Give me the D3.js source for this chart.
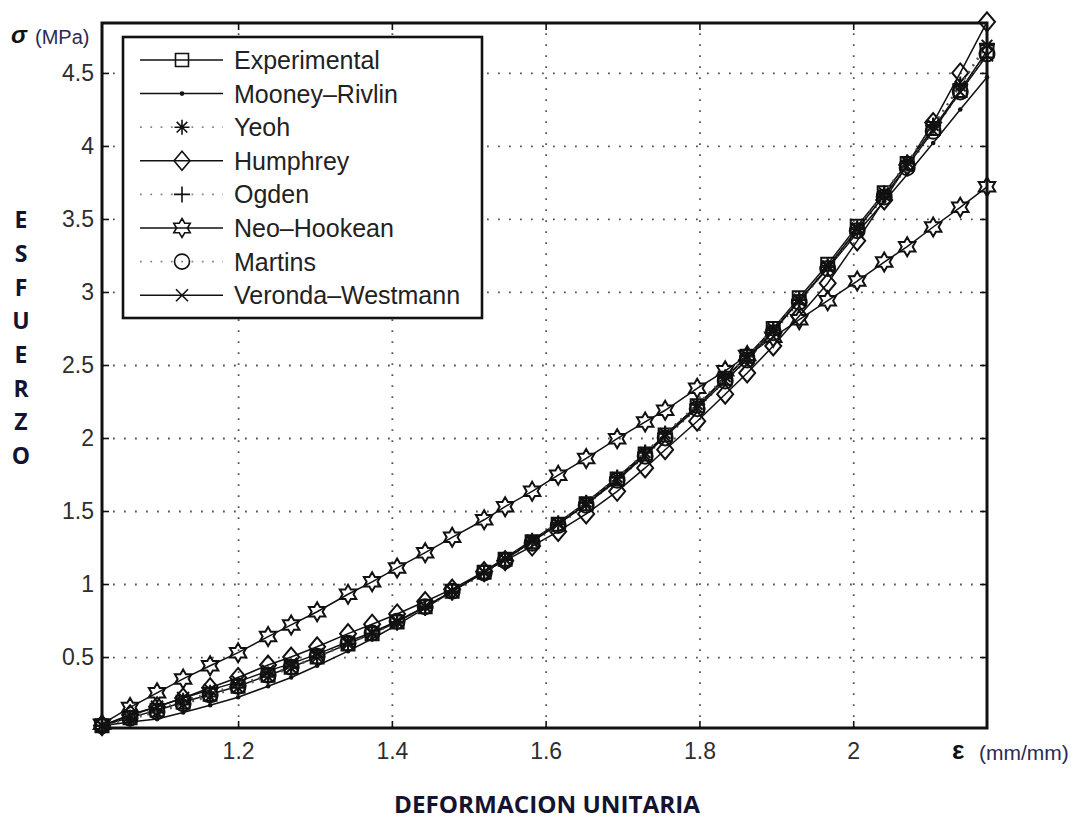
<!DOCTYPE html>
<html>
<head>
<meta charset="utf-8">
<script src="https://cdn.jsdelivr.net/npm/d3@7"></script>
<style>
  body { margin: 0; background: #fff; }
  svg { display: block; }
  text { font-family: "Liberation Sans", Arial, Helvetica, sans-serif; }
</style>
</head>
<body>
<svg id="chart" width="1084" height="822"></svg>
<script>
// Stretch (mm/mm) at which every model was evaluated
const strain = [1.023, 1.0595, 1.0946, 1.1285, 1.1636, 1.200, 1.239, 1.269, 1.3028, 1.343,
  1.3743, 1.4068, 1.4433, 1.4784, 1.520, 1.5473, 1.5824, 1.6163, 1.6527, 1.693,
  1.7294, 1.7554, 1.7971, 1.8335, 1.8621, 1.896, 1.9298, 1.9668, 2.0052, 2.0403,
  2.0702, 2.104, 2.1392, 2.174];

// Stress (MPa) for each series
const experimental = [0.03, 0.085, 0.135, 0.19, 0.245, 0.30, 0.375, 0.43, 0.50, 0.59,
  0.66, 0.74, 0.845, 0.95, 1.08, 1.17, 1.29, 1.41, 1.55, 1.72,
  1.89, 2.02, 2.22, 2.41, 2.56, 2.75, 2.96, 3.19, 3.45, 3.68,
  3.88, 4.12, 4.38, 4.65];
const mooneyRivlin = [0.03, 0.055, 0.075, 0.12, 0.17, 0.225, 0.30, 0.36, 0.44, 0.54,
  0.625, 0.72, 0.835, 0.95, 1.085, 1.18, 1.30, 1.42, 1.56, 1.73,
  1.895, 2.02, 2.22, 2.41, 2.56, 2.74, 2.94, 3.16, 3.405, 3.62,
  3.805, 4.02, 4.25, 4.47];
const yeoh = [0.03, 0.075, 0.12, 0.175, 0.23, 0.29, 0.365, 0.425, 0.50, 0.59,
  0.66, 0.74, 0.845, 0.95, 1.08, 1.17, 1.30, 1.42, 1.56, 1.73,
  1.90, 2.03, 2.23, 2.42, 2.56, 2.75, 2.95, 3.18, 3.44, 3.68,
  3.89, 4.14, 4.41, 4.69];
const humphrey = [0.03, 0.105, 0.16, 0.22, 0.29, 0.36, 0.445, 0.50, 0.57, 0.66,
  0.725, 0.795, 0.88, 0.965, 1.085, 1.16, 1.26, 1.36, 1.48, 1.635,
  1.795, 1.92, 2.115, 2.30, 2.445, 2.63, 2.835, 3.06, 3.35, 3.63,
  3.87, 4.16, 4.50, 4.85];
const ogden = [0.03, 0.085, 0.14, 0.20, 0.255, 0.31, 0.38, 0.435, 0.50, 0.59,
  0.66, 0.735, 0.835, 0.94, 1.07, 1.165, 1.29, 1.41, 1.555, 1.73,
  1.90, 2.03, 2.23, 2.41, 2.56, 2.74, 2.945, 3.17, 3.43, 3.67,
  3.88, 4.14, 4.42, 4.70];
const neoHookean = [0.04, 0.155, 0.255, 0.35, 0.44, 0.53, 0.64, 0.72, 0.81, 0.93,
  1.015, 1.11, 1.215, 1.32, 1.44, 1.53, 1.635, 1.745, 1.86, 1.995,
  2.11, 2.19, 2.34, 2.46, 2.565, 2.69, 2.81, 2.94, 3.075, 3.205,
  3.31, 3.445, 3.58, 3.72];
const martins = [0.03, 0.08, 0.125, 0.18, 0.24, 0.30, 0.375, 0.43, 0.505, 0.595,
  0.665, 0.745, 0.845, 0.95, 1.075, 1.16, 1.28, 1.40, 1.54, 1.71,
  1.875, 2.00, 2.20, 2.39, 2.535, 2.72, 2.93, 3.16, 3.42, 3.65,
  3.85, 4.10, 4.37, 4.63];
const verondaWestmann = [0.03, 0.10, 0.16, 0.22, 0.275, 0.33, 0.405, 0.455, 0.52, 0.605,
  0.67, 0.745, 0.845, 0.95, 1.08, 1.17, 1.29, 1.41, 1.545, 1.71,
  1.88, 2.01, 2.205, 2.39, 2.54, 2.73, 2.94, 3.17, 3.43, 3.66,
  3.86, 4.105, 4.37, 4.62];

const seriesNames = ["Experimental", "Mooney\u2013Rivlin", "Yeoh", "Humphrey", "Ogden",
  "Neo\u2013Hookean", "Martins", "Veronda\u2013Westmann"];

const xTicks = [1.2, 1.4, 1.6, 1.8, 2.0];
const xTickLabels = ["1.2", "1.4", "1.6", "1.8", "2"];
const yTicks = [0.5, 1, 1.5, 2, 2.5, 3, 3.5, 4, 4.5];
const yTickLabels = ["0.5", "1", "1.5", "2", "2.5", "3", "3.5", "4", "4.5"];

// ---- drawing ----
const W = 1084, H = 822;
const plot = { left: 102, right: 987, top: 23, bottom: 728 };
const x = d3.scaleLinear().domain([1.023, 2.174]).range([plot.left, plot.right]);
const y = d3.scaleLinear().domain([0.014, 4.842]).range([plot.bottom, plot.top]);
const plotH = plot.bottom - plot.top, plotW = plot.right - plot.left;

const svg = d3.select("#chart");
svg.append("rect").attr("width", W).attr("height", H).attr("fill", "#fff");

// dotted grid
const gx = svg.append("g").attr("transform", `translate(0,${plot.bottom})`)
  .call(d3.axisBottom(x).tickValues(xTicks).tickSize(-plotH).tickFormat(""));
const gy = svg.append("g").attr("transform", `translate(${plot.left},0)`)
  .call(d3.axisLeft(y).tickValues(yTicks).tickSize(-plotW).tickFormat(""));
[gx, gy].forEach(g => {
  g.select(".domain").remove();
  g.selectAll(".tick line").attr("stroke", "#555").attr("stroke-width", 1.8)
    .attr("stroke-dasharray", "1.8,9.2");
});

// inward ticks on all four sides
const tickColor = "#111";
const axB = svg.append("g").attr("transform", `translate(0,${plot.bottom})`)
  .call(d3.axisBottom(x).tickValues(xTicks).tickSize(-7).tickPadding(15)
    .tickFormat((d, i) => xTickLabels[i]));
const axT = svg.append("g").attr("transform", `translate(0,${plot.top})`)
  .call(d3.axisTop(x).tickValues(xTicks).tickSize(-7).tickFormat(""));
const axL = svg.append("g").attr("transform", `translate(${plot.left},0)`)
  .call(d3.axisLeft(y).tickValues(yTicks).tickSize(-7).tickPadding(8)
    .tickFormat((d, i) => yTickLabels[i]));
const axR = svg.append("g").attr("transform", `translate(${plot.right},0)`)
  .call(d3.axisRight(y).tickValues(yTicks).tickSize(-7).tickFormat(""));
[axB, axT, axL, axR].forEach(g => {
  g.select(".domain").remove();
  g.selectAll(".tick line").attr("stroke", tickColor).attr("stroke-width", 1.6);
  g.selectAll(".tick text").attr("fill", "#2e2e2e").style("font-size", "23px")
    .style("font-family", "'Liberation Sans', Arial, sans-serif");
});

// axes box
svg.append("rect")
  .attr("x", plot.left).attr("y", plot.top).attr("width", plotW).attr("height", plotH)
  .attr("fill", "none").attr("stroke", "#111").attr("stroke-width", 3);

// marker shapes
function markerPath(type) {
  switch (type) {
    case "square": { const s = 6.5; return `M${-s},${-s}H${s}V${s}H${-s}Z`; }
    case "diamond": { const w = 8, h = 9.5; return `M0,${-h}L${w},0L0,${h}L${-w},0Z`; }
    case "circle": { const r = 7.5; return `M${r},0A${r},${r} 0 1,1 ${-r},0A${r},${r} 0 1,1 ${r},0Z`; }
    case "plus": { const a = 8; return `M${-a},0H${a}M0,${-a}V${a}`; }
    case "cross": { const a = 6; return `M${-a},${-a}L${a},${a}M${-a},${a}L${a},${-a}`; }
    case "asterisk": {
      const a = 7.5, b = 5.3;
      return `M${-a},0H${a}M0,${-a}V${a}M${-b},${-b}L${b},${b}M${-b},${b}L${b},${-b}`;
    }
    case "hexagram": {
      const R = 9.5, r = R / Math.sqrt(3);
      const pts = d3.range(12).map(k => {
        const ang = -Math.PI / 2 + k * Math.PI / 6;
        const rad = k % 2 === 0 ? R : r;
        return [rad * Math.cos(ang), rad * Math.sin(ang)];
      });
      return "M" + pts.map(p => p.join(",")).join("L") + "Z";
    }
    case "dot": { const r = 2.3; return `M${r},0A${r},${r} 0 1,1 ${-r},0A${r},${r} 0 1,1 ${r},0Z`; }
  }
}

const series = [
  { name: seriesNames[0], values: experimental, marker: "square", dotted: false },
  { name: seriesNames[1], values: mooneyRivlin, marker: "dot", dotted: false },
  { name: seriesNames[2], values: yeoh, marker: "asterisk", dotted: true },
  { name: seriesNames[3], values: humphrey, marker: "diamond", dotted: false },
  { name: seriesNames[4], values: ogden, marker: "plus", dotted: true },
  { name: seriesNames[5], values: neoHookean, marker: "hexagram", dotted: false },
  { name: seriesNames[6], values: martins, marker: "circle", dotted: true },
  { name: seriesNames[7], values: verondaWestmann, marker: "cross", dotted: false }
];

const line = d3.line().x(d => x(d[0])).y(d => y(d[1]));

function styleLine(sel, s) {
  sel.attr("fill", "none")
    .attr("stroke", s.dotted ? "#555" : "#111")
    .attr("stroke-width", s.dotted ? 1.8 : 1.5)
    .attr("stroke-dasharray", s.dotted ? "1.8,6" : null);
}
function styleMarker(sel, s) {
  if (s.marker === "dot") sel.attr("fill", "#111").attr("stroke", "none");
  else sel.attr("fill", "none").attr("stroke", "#111").attr("stroke-width", 2);
}

const dataG = svg.append("g");
series.forEach(s => {
  const pts = strain.map((v, i) => [v, s.values[i]]);
  const g = dataG.append("g");
  g.append("path").datum(pts).attr("d", line).call(styleLine, s);
  g.selectAll("path.m").data(pts).join("path").attr("class", "m")
    .attr("d", markerPath(s.marker))
    .attr("transform", d => `translate(${x(d[0])},${y(d[1])})`)
    .call(styleMarker, s);
});

// legend
const leg = svg.append("g");
leg.append("rect").attr("x", 123).attr("y", 37).attr("width", 359).attr("height", 281)
  .attr("fill", "#fff").attr("stroke", "#111").attr("stroke-width", 2.6);
series.forEach((s, i) => {
  const cy = 60 + i * 33.6;
  leg.append("line").attr("x1", 140).attr("x2", 223).attr("y1", cy).attr("y2", cy)
    .call(styleLine, s).attr("stroke-dasharray", s.dotted ? "1.8,8.5" : null)
    .attr("stroke", s.dotted ? "#888" : "#111");
  leg.append("path").attr("d", markerPath(s.marker))
    .attr("transform", `translate(182,${cy})`).call(styleMarker, s)
    .attr("stroke-width", s.marker === "dot" ? null : 1.6);
  leg.append("text").attr("x", 234).attr("y", cy).attr("dy", "0.36em")
    .attr("fill", "#222").style("font-size", "25px").text(s.name);
});

// axis annotations
const lab = svg.append("g");
lab.append("text").attr("x", 11).attr("y", 43)
  .style("font-size", "24px").style("font-style", "italic").style("font-weight", "bold")
  .attr("fill", "#111").text("\u03c3");
lab.append("text").attr("x", 35).attr("y", 44)
  .style("font-size", "20px").attr("fill", "#2a2a55").text("(MPa)");

lab.append("text").attr("x", 952).attr("y", 759)
  .style("font-size", "26px").style("font-weight", "bold")
  .attr("fill", "#111").text("\u03b5");
lab.append("text").attr("x", 979).attr("y", 760)
  .style("font-size", "21px").attr("fill", "#2a2a55").text("(mm/mm)");

const vertical = "ESFUERZO".split("");
vertical.forEach((ch, i) => {
  lab.append("text").attr("x", 21).attr("y", 220 + i * 33.7).attr("dy", "0.36em")
    .attr("text-anchor", "middle")
    .style("font-size", "23px").style("font-weight", "bold")
    .style("font-family", "'Open Sans', 'Liberation Sans', sans-serif")
    .attr("fill", "#141430").text(ch);
});

lab.append("text").attr("x", 394).attr("y", 813)
  .attr("textLength", 306).attr("lengthAdjust", "spacingAndGlyphs")
  .style("font-size", "23px").style("font-weight", "bold")
  .style("font-family", "'Liberation Sans Narrow', 'Open Sans', sans-serif")
  .attr("fill", "#141430").text("DEFORMACION UNITARIA");
</script>
</body>
</html>
